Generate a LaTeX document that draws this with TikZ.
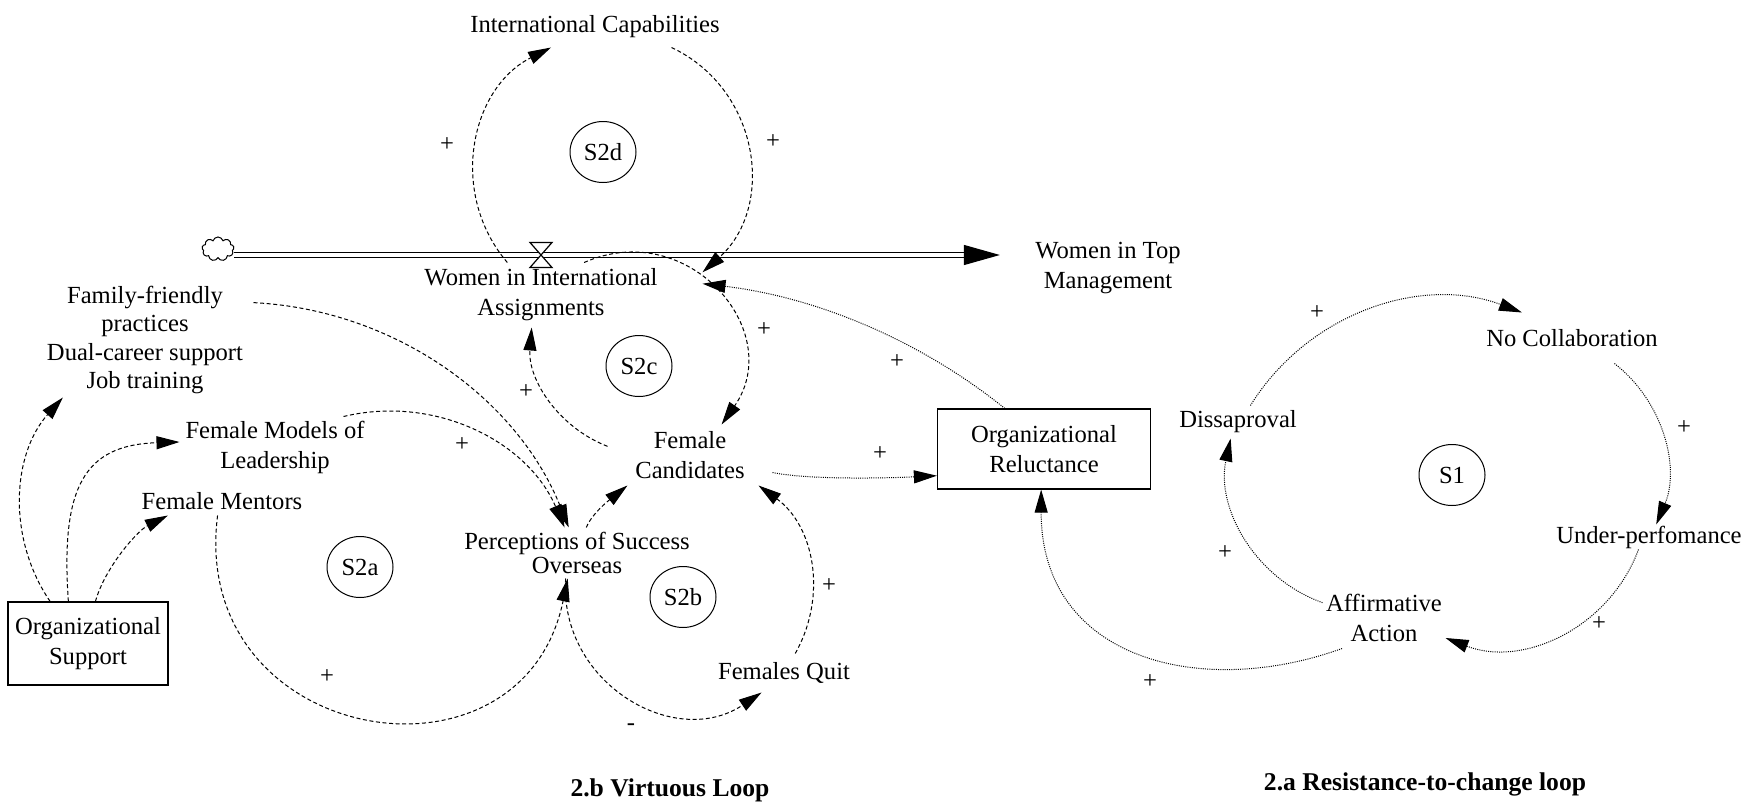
\documentclass[tikz,border=0pt]{standalone}
\usepackage{fontspec}
\setmainfont{Liberation Serif}
\usetikzlibrary{arrows.meta,shapes.geometric,shapes.symbols}
\tikzstyle{var}=[inner sep=0,align=center,font=\fontsize{12.3}{15}\selectfont]
\tikzstyle{box}=[var,draw,line width=0.6pt]
\tikzstyle{loopid}=[var,draw,ellipse,minimum width=33pt,minimum height=30.5pt]
\tikzstyle{sign}=[var]
\tikzstyle{title}=[inner sep=0,font=\fontsize{12.8}{15}\selectfont\bfseries]
\tikzstyle{vl}=[dash pattern=on 2pt off 1.3pt,-{Triangle[length=11.5pt,width=6.5pt]}]
\tikzstyle{rl}=[dash pattern=on 0.5pt off 0.6pt,-{Triangle[length=11.5pt,width=6.5pt]}]
\tikzstyle{pipe}=[double distance=2pt,line width=0.6pt,-{Triangle[length=18pt,width=10pt]}]

\begin{document}
\begin{tikzpicture}[x=0.5pt,y=-0.5pt,line width=0.5pt]
\useasboundingbox (0,0) rectangle (1752,803);
\node[var,minimum width=125pt,minimum height=20pt] (ic) at (595,27) {International Capabilities};
\node[loopid] (s2d) at (603,152) {S2d};
\node[cloud,draw,cloud puffs=9,aspect=1.4,minimum width=16pt,minimum height=12pt,inner sep=0] (src) at (218,249) {};
\node[var] (wtm) at (1108,268) {Women in Top\\Management};
\node[var,minimum width=161pt,minimum height=32pt] (wia) at (541,295) {Women in International\\Assignments};
\coordinate (valve) at (541,255);
\node[var,minimum width=108pt,minimum height=57pt,font=\fontsize{12.3}{14.25}\selectfont] (ff) at (145,340) {Family-friendly\\practices\\Dual-career support\\Job training};
\node[loopid] (s2c) at (639,366) {S2c};
\node[var,minimum width=95pt,minimum height=30pt] (fml) at (275,447) {Female Models of\\Leadership};
\node[var,minimum width=82pt,minimum height=30pt] (fc) at (690,455) {Female\\Candidates};
\node[var,minimum width=85pt,minimum height=14pt] (fm) at (222,501) {Female Mentors};
\node[var,minimum width=118pt,minimum height=25pt,font=\fontsize{12.3}{9.5}\selectfont] (pso) at (577,553) {Perceptions of Success\\Overseas};
\node[loopid] (s2a) at (360,567) {S2a};
\node[loopid] (s2b) at (683,597) {S2b};
\node[box,minimum width=80pt,minimum height=41.5pt] (os) at (88,643.5) {Organizational\\Support};
\node[var,minimum width=68pt,minimum height=19pt] (fq) at (784,673) {Females Quit};
\node[box,minimum width=106.5pt,minimum height=40pt] (or) at (1044,449) {Organizational\\Reluctance};
\node[var,minimum width=62pt,minimum height=16pt] (dis) at (1238,422) {Dissaproval};
\node[var,minimum width=92pt,minimum height=25pt] (nc) at (1572,338) {No Collaboration};
\node[loopid] (s1) at (1452,475) {S1};
\node[var,minimum width=98pt,minimum height=12pt] (up) at (1649,537) {Under-perfomance};
\node[var,minimum width=61pt,minimum height=30pt] (aa) at (1384,618) {Affirmative\\Action};
\node[title] (tb) at (670,790) {2.b Virtuous Loop};
\node[title] (ta) at (1425,784) {2.a Resistance-to-change loop};

\draw[pipe,shorten >=17.5pt] (valve -| src.east) -- (valve -| wtm.west);
\draw[fill=white,line width=0.6pt] (valve) ++(-11,-12.5) -- ++(22,0) -- ++(-22,25) -- ++(22,0) -- cycle;

\draw[vl] (wia.136) .. controls +(-59,-69) and +(-81,41) .. (ic.205);
\draw[vl] (ic.345) .. controls +(89,42) and +(73,-65) .. (wia.8);
\draw[rl] (or.134) .. controls +(-87,-70) and +(111,13) .. (wia.4);
\draw[vl] (wia.37) .. controls +(104,-46) and +(65,-93) .. (fc.44);
\draw[vl] (fc.174) .. controls +(-49,-19) and +(-4,52) .. (wia.254);
\draw[rl] (fc.348) .. controls +(40,8) and +(-40,2) .. (or.194);
\draw[vl] (pso.70) .. controls +(6,-15) and +(-15,12) .. (fc.206);
\draw[vl] (fq.60) .. controls +(33,-59) and +(55,40) .. (fc.336);
\draw[vl] (pso.246) .. controls +(-7,104) and +(-87,58) .. (fq.221);
\draw[vl] (fm.253) .. controls +(-29,230) and +(-46,223) .. (pso.250);
\draw[vl] (fml.24) .. controls +(92,-22) and +(-37,-86) .. (pso.116);
\draw[vl] (ff.19) .. controls +(140,7) and +(-52,-130) .. (pso.108);
\draw[vl] (os.132) .. controls +(-43,-63) and +(-51,57) .. (ff.215);
\draw[vl] (os.115) .. controls +(-8,-115) and +(-95,3) .. (fml.177);
\draw[vl] (os.80) .. controls +(10,-35) and +(-30,15) .. (fm.195);
\draw[rl] (dis.53) .. controls +(57,-92) and +(-101,-38) .. (nc.153);
\draw[rl] (nc.329) .. controls +(49,38) and +(24,-57) .. (up.60);
\draw[rl] (up.230) .. controls +(-29,78) and +(78,30) .. (aa.342);
\draw[rl] (aa.166) .. controls +(-67,-24) and +(-15,70) .. (dis.246);
\draw[rl] (aa.216) .. controls +(-141,51) and +(0,170) .. (or.266);

\node[sign] (p1) at (447,145) {+};
\node[sign] (p2) at (773,142) {+};
\node[sign] (p3) at (764,330) {+};
\node[sign] (p4) at (897,362) {+};
\node[sign] (p5) at (526,392) {+};
\node[sign] (p6) at (462,445) {+};
\node[sign] (p7) at (880,454) {+};
\node[sign] (p8) at (829,586) {+};
\node[sign] (p9) at (327,677) {+};
\node[sign] (m1) at (631,727) {-};
\node[sign] (p10) at (1317,313) {+};
\node[sign] (p11) at (1684,428) {+};
\node[sign] (p12) at (1225,553) {+};
\node[sign] (p13) at (1599,624) {+};
\node[sign] (p14) at (1150,682) {+};
\end{tikzpicture}
\end{document}
